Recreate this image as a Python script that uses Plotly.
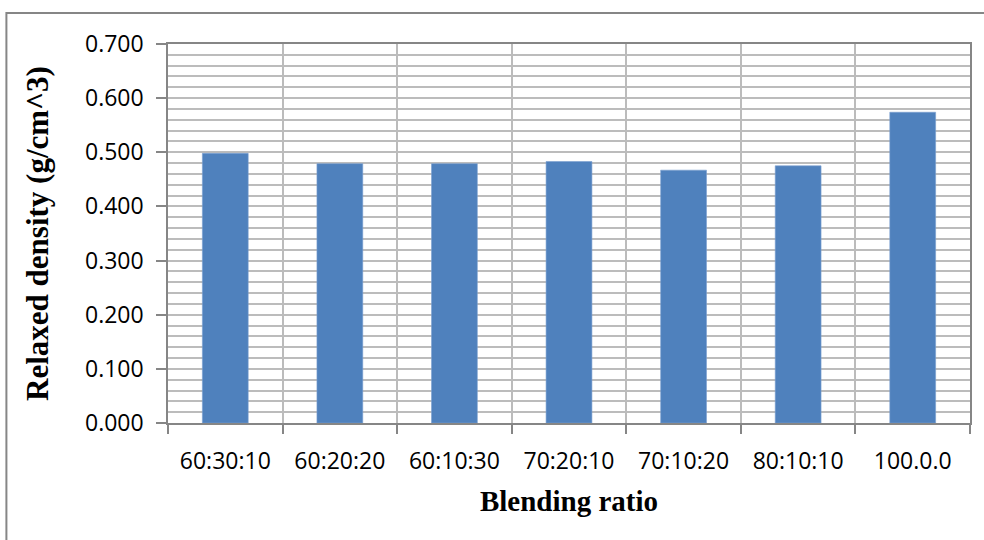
import plotly.graph_objects as go

# Relaxed density of each blend
blend_ratios = ["60:30:10", "60:20:20", "60:10:30", "70:20:10", "70:10:20", "80:10:10", "100.0.0"]
relaxed_density = [0.498, 0.479, 0.479, 0.483, 0.467, 0.475, 0.574]
y_ticks = [0.0, 0.1, 0.2, 0.3, 0.4, 0.5, 0.6, 0.7]
y_tick_labels = ["0.000", "0.100", "0.200", "0.300", "0.400", "0.500", "0.600", "0.700"]

fig = go.Figure(
    go.Bar(
        x=blend_ratios,
        y=relaxed_density,
        marker=dict(color="#4f81bd", line=dict(width=0.6, color="#7a9fd0")),
    )
)

axis_gray = "#868686"
grid_gray = "#bcbcbc"
tick_font = dict(family="Open Sans, Lato, sans-serif", size=23, color="#000000")
title_family = "Liberation Serif, Times New Roman, serif"

fig.update_layout(
    width=984,
    height=540,
    margin=dict(l=168, r=12, t=44, b=117),
    paper_bgcolor="white",
    plot_bgcolor="white",
    bargap=0.6,
    showlegend=False,
    font=tick_font,
    xaxis=dict(
        type="category",
        tickson="boundaries",
        ticks="outside",
        ticklen=9,
        tickcolor=axis_gray,
        tickwidth=1.5,
        showline=True,
        linecolor=axis_gray,
        linewidth=1.5,
        showgrid=True,
        gridcolor=grid_gray,
        gridwidth=1.5,
        tickfont=tick_font,
        ticklabelstandoff=17,
        title=dict(
            text="<b>Blending ratio</b>",
            font=dict(family=title_family, size=29, color="#000000"),
            standoff=15,
        ),
        mirror=True,
    ),
    yaxis=dict(
        range=[0, 0.7],
        tickvals=y_ticks,
        ticktext=y_tick_labels,
        ticks="outside",
        ticklen=10,
        tickcolor=axis_gray,
        tickwidth=1.5,
        showline=True,
        linecolor=axis_gray,
        linewidth=1.5,
        showgrid=True,
        gridcolor=grid_gray,
        gridwidth=1.5,
        minor=dict(dtick=0.02, showgrid=True, gridcolor=grid_gray, gridwidth=1.5, ticks=""),
        zeroline=False,
        tickfont=tick_font,
        ticklabelstandoff=8,
        title=dict(
            text="<b>Relaxed density (g/cm^3)</b>",
            font=dict(family=title_family, size=31, color="#000000"),
            standoff=27,
        ),
        mirror=True,
    ),
)

# Outer chart frame
fig.add_shape(
    type="rect",
    xref="paper", yref="paper",
    x0=-162 / 804, x1=1.05, y0=-0.5, y1=1 + 31 / 379,
    line=dict(color=axis_gray, width=2),
    fillcolor="rgba(0,0,0,0)",
    layer="below",
)

fig.write_html("out.html")
